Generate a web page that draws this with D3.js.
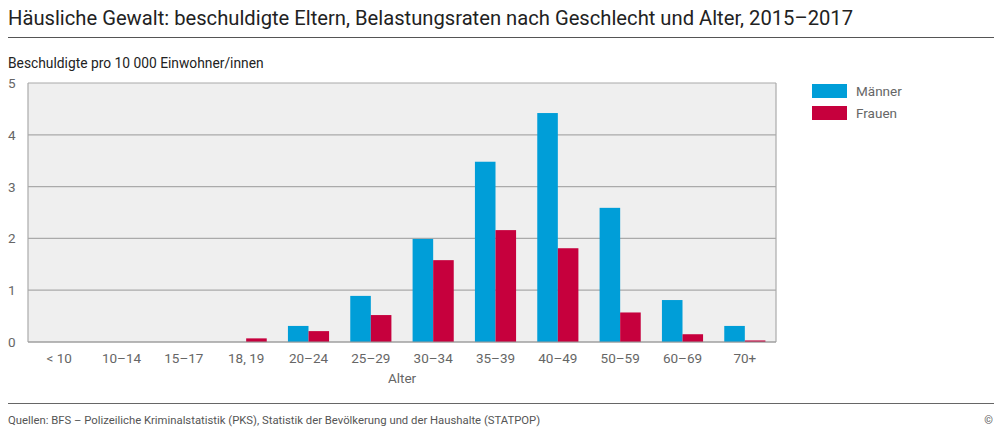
<!DOCTYPE html>
<html><head><meta charset="utf-8">
<script src="https://cdn.jsdelivr.net/npm/d3@7/dist/d3.min.js"></script>
<style>
body{margin:0;background:#fff;font-family:Roboto,"Noto Sans",sans-serif;}
</style></head><body>
<svg id="c" width="994" height="432"></svg>
<script>
const categories = ["< 10","10–14","15–17","18, 19","20–24","25–29","30–34","35–39","40–49","50–59","60–69","70+"];
const maenner = [0,0,0,0,0.31,0.89,1.99,3.48,4.42,2.59,0.81,0.31];
const frauen  = [0,0,0,0.07,0.21,0.52,1.58,2.16,1.81,0.57,0.15,0.03];
const seriesNames = ["Männer","Frauen"];
const seriesColors = ["#009ed8","#c6003d"];
const yTicks = [0,1,2,3,4,5];

const svg = d3.select("#c");
const W=994;
svg.append("text").attr("x",8).attr("y",25).attr("font-size",20.2).attr("fill","#222").text("Häusliche Gewalt: beschuldigte Eltern, Belastungsraten nach Geschlecht und Alter, 2015–2017");
svg.append("line").attr("x1",8).attr("x2",W).attr("y1",37.5).attr("y2",37.5).attr("stroke","#555").attr("stroke-width",1.2);
svg.append("text").attr("x",8).attr("y",68).attr("font-size",13.8).attr("fill","#222").text("Beschuldigte pro 10 000 Einwohner/innen");

const m={l:28,r:776,t:83,b:342};
const x=d3.scaleBand().domain(categories).range([m.l,m.r]).paddingInner(0.34).paddingOuter(0.17);
const x1=d3.scaleBand().domain(seriesNames).range([0,x.bandwidth()]);
const y=d3.scaleLinear().domain([0,5]).range([m.b,m.t]);

svg.append("rect").attr("x",m.l).attr("y",m.t).attr("width",m.r-m.l).attr("height",m.b-m.t).attr("fill","#efefef");
const g=svg.append("g");
g.selectAll("line.grid").data(yTicks).join("line").attr("x1",m.l).attr("x2",m.r)
 .attr("y1",d=>y(d)).attr("y2",d=>y(d)).attr("stroke","#aaa").attr("stroke-width",1.2);
svg.append("line").attr("x1",m.l).attr("x2",m.l).attr("y1",m.t).attr("y2",m.b).attr("stroke","#aaa").attr("stroke-width",1.2);
svg.append("line").attr("x1",m.r).attr("x2",m.r).attr("y1",m.t).attr("y2",m.b).attr("stroke","#aaa").attr("stroke-width",1.2);

const data=[maenner,frauen];
data.forEach((arr,si)=>{
  svg.append("g").selectAll("rect").data(arr).join("rect")
   .attr("x",(d,i)=>x(categories[i])+x1(seriesNames[si]))
   .attr("width",x1.bandwidth())
   .attr("y",d=>y(d)).attr("height",d=>y(0)-y(d))
   .attr("fill",seriesColors[si]);
});
svg.append("line").attr("x1",m.l).attr("x2",m.r).attr("y1",y(0)).attr("y2",y(0)).attr("stroke","#999").attr("stroke-width",1.2);

// y axis labels
svg.append("g").selectAll("text").data(yTicks).join("text")
 .attr("x",8).attr("y",d=>y(d)+5).attr("font-size",13.5).attr("fill","#666").text(d=>d);
// x axis labels
const xa=svg.append("g").attr("transform",`translate(0,${m.b})`).call(d3.axisBottom(x).tickSize(0).tickPadding(11));
xa.select(".domain").remove();
xa.selectAll("text").attr("font-size",13.5).attr("fill","#666").attr("font-family","Roboto,sans-serif");
svg.append("text").attr("x",(m.l+m.r)/2).attr("y",383).attr("text-anchor","middle").attr("font-size",13.5).attr("fill","#666").text("Alter");

// legend
const lg=svg.append("g");
seriesNames.forEach((n,i)=>{
  lg.append("rect").attr("x",812).attr("y",84+i*22).attr("width",35).attr("height",14).attr("fill",seriesColors[i]);
  lg.append("text").attr("x",856).attr("y",96+i*22).attr("font-size",13.5).attr("fill","#666").text(n);
});

svg.append("line").attr("x1",8).attr("x2",W).attr("y1",403.5).attr("y2",403.5).attr("stroke","#666").attr("stroke-width",1.2);
svg.append("text").attr("x",8).attr("y",424).attr("font-size",11.3).attr("fill","#555").text("Quellen: BFS – Polizeiliche Kriminalstatistik (PKS), Statistik der Bevölkerung und der Haushalte (STATPOP)");
svg.append("text").attr("x",993).attr("y",424).attr("text-anchor","end").attr("font-size",11).attr("fill","#555").text("©");
</script></body></html>
